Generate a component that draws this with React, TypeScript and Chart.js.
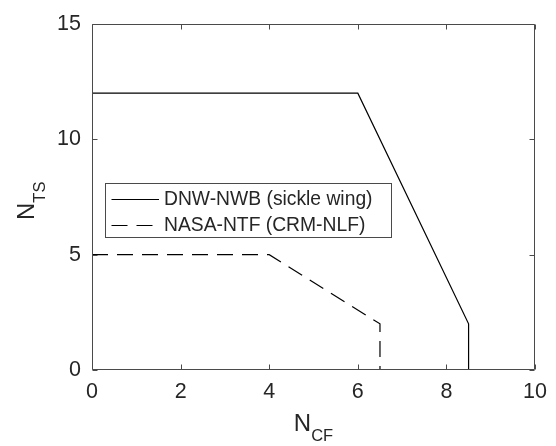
import React, { useEffect, useRef } from 'react';
import { Chart, registerables } from 'chart.js';

Chart.register(...registerables);

// ---- data ----
const xTicks = [0, 2, 4, 6, 8, 10];
const yTicks = [0, 5, 10, 15];
const seriesLabels = ['DNW-NWB (sickle wing)', 'NASA-NTF (CRM-NLF)'];
const dnwX = [0, 6, 8.5, 8.5];
const dnwY = [12, 12, 2, 0];
const nasaX = [0, 4, 6.5, 6.5];
const nasaY = [5, 5, 2, 0];
const xTitle = ['N', 'CF'];
const yTitle = ['N', 'TS'];

const FONT = '"Liberation Sans", Arial, Helvetica, sans-serif';
const AXIS_COLOR = '#4a4a4a';
const TEXT_COLOR = '#262626';

const framePlugin = {
  id: 'frame',
  afterDatasetsDraw(chart: any) {
    const { ctx, chartArea, scales } = chart;
    const l = Math.round(chartArea.left) + 0.5;
    const r = Math.round(chartArea.right) - 0.5;
    const t = Math.round(chartArea.top) + 0.5;
    const b = Math.round(chartArea.bottom) - 0.5;
    ctx.save();
    ctx.strokeStyle = AXIS_COLOR;
    ctx.lineWidth = 1;
    ctx.beginPath();
    ctx.rect(l, t, r - l, b - t);
    const tl = 5;
    xTicks.forEach((v) => {
      const px = Math.round(scales.x.getPixelForValue(v)) + 0.5;
      ctx.moveTo(px, b);
      ctx.lineTo(px, b - tl);
      ctx.moveTo(px, t);
      ctx.lineTo(px, t + tl);
    });
    yTicks.forEach((v) => {
      const py = Math.round(scales.y.getPixelForValue(v)) + 0.5;
      ctx.moveTo(l, py);
      ctx.lineTo(l + tl, py);
      ctx.moveTo(r, py);
      ctx.lineTo(r - tl, py);
    });
    ctx.stroke();

    // legend
    const bx = 105.5, by = 183.5, bw = 286, bh = 54;
    ctx.fillStyle = '#ffffff';
    ctx.fillRect(bx, by, bw, bh);
    ctx.strokeStyle = AXIS_COLOR;
    ctx.strokeRect(bx, by, bw, bh);
    ctx.font = `19.3px ${FONT}`;
    ctx.textBaseline = 'middle';
    ctx.textAlign = 'left';
    chart.data.datasets.forEach((ds: any, i: number) => {
      const cy = by + 15 + i * 26;
      ctx.save();
      ctx.strokeStyle = ds.borderColor;
      ctx.lineWidth = ds.borderWidth;
      ctx.setLineDash(ds.borderDash || []);
      ctx.beginPath();
      ctx.moveTo(111.5, Math.round(cy) + 0.5);
      ctx.lineTo(159, Math.round(cy) + 0.5);
      ctx.stroke();
      ctx.restore();
      ctx.fillStyle = TEXT_COLOR;
      ctx.fillText(ds.label, 164, cy + 1);
    });

    // axis titles with subscripts
    ctx.fillStyle = TEXT_COLOR;
    ctx.textBaseline = 'alphabetic';
    ctx.font = `24px ${FONT}`;
    const nW = ctx.measureText(xTitle[0]).width;
    ctx.font = `16.5px ${FONT}`;
    const sW = ctx.measureText(xTitle[1]).width;
    const cx = (chartArea.left + chartArea.right) / 2;
    const x0 = cx - (nW + sW) / 2;
    ctx.font = `24px ${FONT}`;
    ctx.fillText(xTitle[0], x0, 431);
    ctx.font = `16.5px ${FONT}`;
    ctx.fillText(yTitle.length ? xTitle[1] : '', x0 + nW, 441);

    ctx.save();
    ctx.translate(33.5, 220);
    ctx.rotate(-Math.PI / 2);
    ctx.font = `24px ${FONT}`;
    const nW2 = ctx.measureText(yTitle[0]).width;
    ctx.fillText(yTitle[0], 0, 0);
    ctx.font = `16.5px ${FONT}`;
    ctx.fillText(yTitle[1], nW2, 11.5);
    ctx.restore();

    ctx.restore();
  },
};

export default function App() {
  const ref = useRef<HTMLCanvasElement | null>(null);
  useEffect(() => {
    if (!ref.current) return;
    const chart = new Chart(ref.current, {
      type: 'line',
      data: {
        datasets: [
          {
            label: seriesLabels[0],
            data: dnwX.map((x, i) => ({ x, y: dnwY[i] })),
            borderColor: '#000000',
            borderWidth: 1.2,
            pointRadius: 0,
            tension: 0,
            fill: false,
          },
          {
            label: seriesLabels[1],
            data: nasaX.map((x, i) => ({ x, y: nasaY[i] })),
            borderColor: '#000000',
            borderWidth: 1.2,
            borderDash: [16, 9],
            pointRadius: 0,
            tension: 0,
            fill: false,
          },
        ],
      },
      options: {
        responsive: false,
        maintainAspectRatio: false,
        devicePixelRatio: 1,
        animation: false,
        layout: { padding: { top: 14.5, right: 19, left: 0, bottom: 0 } },
        plugins: {
          legend: { display: false },
          tooltip: { enabled: false },
        },
        scales: {
          x: {
            type: 'linear',
            min: 0,
            max: 10,
            afterBuildTicks: (s: any) => {
              s.ticks = xTicks.map((v) => ({ value: v }));
            },
            afterFit: (s: any) => {
              s.height = 76;
            },
            grid: { display: false, drawTicks: false },
            border: { display: false },
            ticks: {
              padding: 9,
              color: TEXT_COLOR,
              font: { family: FONT, size: 21.5 },
              maxRotation: 0,
              callback: (v: any) => String(v),
            },
          },
          y: {
            type: 'linear',
            min: 0,
            max: 15,
            afterBuildTicks: (s: any) => {
              s.ticks = yTicks.map((v) => ({ value: v }));
            },
            afterFit: (s: any) => {
              s.width = 92;
            },
            grid: { display: false, drawTicks: false },
            border: { display: false },
            ticks: {
              padding: 11,
              color: TEXT_COLOR,
              font: { family: FONT, size: 21.5 },
              callback: (v: any) => String(v),
            },
          },
        },
      },
      plugins: [framePlugin],
    } as any);
    return () => chart.destroy();
  }, []);
  return (
    <div style={{ position: 'absolute', left: 0, top: 0, width: 556, height: 446, background: '#fff' }}>
      <canvas ref={ref} width={556} height={446} style={{ display: 'block', width: 556, height: 446 }} />
    </div>
  );
}
